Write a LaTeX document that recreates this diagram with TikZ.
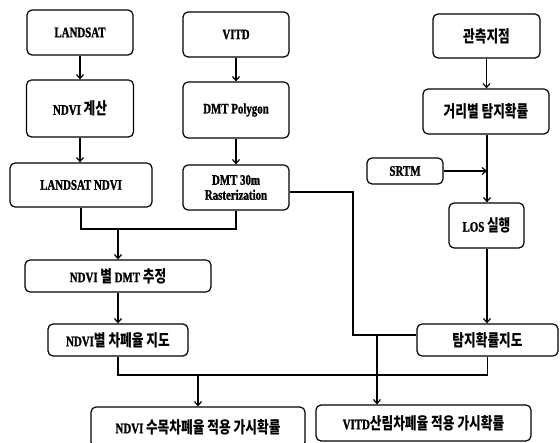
\documentclass[tikz,border=0pt]{standalone}
\usepackage{fontspec}
\setmainfont{Liberation Serif}[FakeStretch=0.75, BoldFeatures={FakeBold=1.3}]
\newfontfamily\kr{Noto Sans CJK KR}[FakeStretch=0.77]
\usetikzlibrary{arrows.meta}
\newcommand{\K}[1]{{\kr\fontsize{16.5}{18}\selectfont #1}}
\begin{document}
\begin{tikzpicture}[x=1pt,y=-1pt,
  box/.style={draw, rounded corners=5pt, line width=1.2pt, align=center, inner sep=0pt,
    font=\bfseries\fontsize{14.5}{16}\selectfont},
  conn/.style={line width=1.2pt},
  arr/.style={conn, -{Straight Barb[length=4pt,width=7pt]}}]
\useasboundingbox (0,0) rectangle (560,443);
\begin{scope}
\clip (0,0) rectangle (560,443);
\node[box, minimum width=106pt, minimum height=45pt] (landsat) at (80,32.5) {LANDSAT};
\node[box, minimum width=107pt, minimum height=57pt] (ndvicalc) at (80,108.5) {NDVI \K{계산}};
\node[box, minimum width=142pt, minimum height=44pt] (lndvi) at (81,185) {LANDSAT NDVI};
\node[box, minimum width=106pt, minimum height=45pt] (vitd) at (236,34.5) {VITD};
\node[box, minimum width=106pt, minimum height=56pt] (dmtpoly) at (236,110) {DMT Polygon};
\node[box, minimum width=106pt, minimum height=45pt] (dmt30) at (236,187.5) {DMT 30m\\[-1pt]Rasterization};
\node[box, minimum width=107pt, minimum height=44pt] (obs) at (486.5,36) {\K{관측지점}};
\node[box, minimum width=126pt, minimum height=45pt] (dist) at (486,111.5) {\K{거리별 탐지확률}};
\node[box, minimum width=76pt, minimum height=26pt] (srtm) at (405,171) {SRTM};
\node[box, minimum width=75pt, minimum height=45pt] (los) at (486.5,225.5) {LOS \K{실행}};
\node[box, minimum width=186pt, minimum height=32pt] (ndvidmt) at (118,276) {NDVI \K{별} DMT \K{추정}};
\node[box, minimum width=140pt, minimum height=32pt] (ndvimap) at (118,340) {NDVI\K{별 차폐율 지도}};
\node[box, minimum width=141pt, minimum height=32pt] (detmap) at (487.5,340) {\K{탐지확률지도}};
\node[box, minimum width=214pt, minimum height=40pt] (ndvifinal) at (198,427) {NDVI \K{수목차폐율 적용 가시확률}};
\node[box, minimum width=215pt, minimum height=36pt] (vitdfinal) at (423.5,423) {VITD\K{산림차폐율 적용 가시확률}};

\coordinate (m1) at (118,229);
\coordinate (m2) at (198,375);
\coordinate (c1) at (353,335);
\coordinate (c2) at (377,335);
\coordinate (j1) at (487,171);

\draw[arr] (landsat.south) -- (ndvicalc.north);
\draw[arr] (ndvicalc.south) -- (ndvicalc.south |- lndvi.north);
\draw[arr] (vitd.south) -- (dmtpoly.north);
\draw[arr] (dmtpoly.south) -- (dmt30.north);
\draw[arr] (obs.south) -- (obs.south |- dist.north);
\draw[arr] (dist.south -| j1) -- (j1 |- los.north);
\draw[arr] (srtm.east) -- (j1);
\draw[arr] (los.south -| j1) -- (j1 |- detmap.north);
\draw[conn] (lndvi.south) |- (m1) -| (dmt30.south);
\draw[arr] (m1) -- (ndvidmt.north);
\draw[arr] (ndvidmt.south) -- (ndvimap.north);
\draw[conn] (ndvimap.south) |- (m2) -| (detmap.south);
\draw[arr] (m2) -- (ndvifinal.north);
\draw[conn] ([yshift=-4.5pt]dmt30.east) -| (c1) -- (c1 -| detmap.west);
\draw[arr] (c2) -- (c2 |- vitdfinal.north);
\end{scope}
\end{tikzpicture}
\end{document}
